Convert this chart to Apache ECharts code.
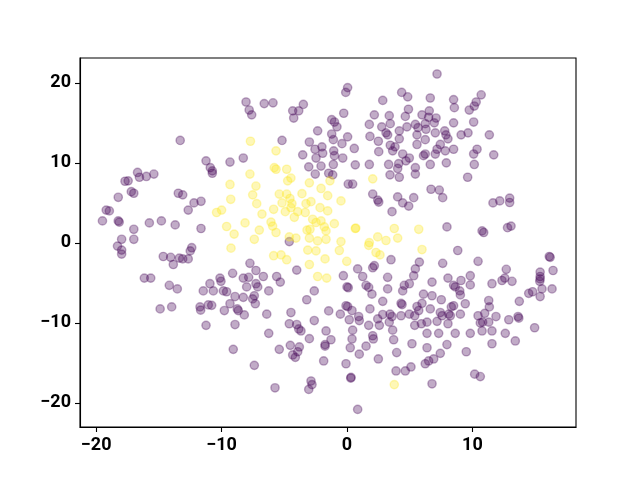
<!DOCTYPE html>
<html>
<head>
<meta charset="utf-8">
<script src="https://cdn.jsdelivr.net/npm/echarts@6/dist/echarts.min.js"></script>
<style>
html,body{margin:0;padding:0;background:#fff;}
#main{width:640px;height:480px;}
</style>
</head>
<body>
<div id="main"></div>
<script>
// cluster 0 (purple) points [x, y]
var purplePts = [
  [-13.3,12.8],[-8.05,17.6],[-7.8,16.6],[-7.6,16.0],
  [0.05,19.4],[-0.1,18.8],[-6.6,17.4],[-5.9,17.5],[-4.33,16.5],[-3.85,16.5],[-4.25,15.6],[-3.48,17.3],[-0.26,16.2],
  [2.85,17.8],[4.36,18.8],[4.84,18.25],[4.9,16.7],[4.65,15.8],[4.78,14.5],[3.37,15.9],[3.45,14.9],[2.77,14.5],
  [2.18,16.0],[1.78,14.8],[1.83,13.3],[2.5,12.7],[3.11,13.75],[3.24,13.5],[4.17,14.0],[4.17,13.0],[3.45,12.2],
  [3.83,12.0],[-1.22,15.4],[-1.0,15.1],[-0.8,14.5],[-1.22,13.6],[-1.09,12.9],[0.05,13.25],[-0.4,12.4],[-2.34,14.0],
  [-3.0,12.6],[-2.0,12.0],[-5.18,12.8],[0.58,11.8],[-2.55,11.7],[-1.06,11.5],
  [7.18,21.1],[6.64,18.1],[8.5,17.9],[8.56,16.9],[10.7,18.5],[10.3,17.6],[10.15,17.1],[9.75,16.6],[6.56,16.5],
  [5.98,16.0],[6.51,15.7],[7.1,15.6],[6.96,15.0],[6.24,14.9],[5.45,14.8],[5.66,14.4],[6.3,14.2],[5.58,13.5],
  [6.24,12.9],[7.04,13.75],[7.79,14.0],[7.89,13.5],[8.05,13.0],[8.5,15.0],[10.1,15.1],[9.1,13.5],[9.65,13.75],
  [11.35,13.5],[5.58,12.3],[7.44,12.3],[7.18,11.7],[8.5,11.7],[10.37,11.7],
  [-11.24,10.25],[-10.9,9.4],[-10.74,9.0],[-10.74,8.7],[-9.33,10.1],[-8.27,10.6],[-16.7,8.8],[-16.55,8.2],
  [-17.7,7.7],[-17.45,7.75],[-16.0,8.3],[-15.4,8.6],[-17.2,6.4],[-17.0,6.2],[-18.24,5.7],[-19.2,4.1],[-18.95,4.0],
  [-19.5,2.75],[-18.24,2.75],[-18.16,2.6],[-15.76,2.5],[-14.8,2.75],[-13.7,2.25],[-13.45,6.2],[-13.1,6.0],
  [-12.66,4.1],[-12.2,5.0],[-11.64,5.2],[-11.64,1.8],[-17.0,1.7],[-17.0,0.45],[-17.97,0.45],
  [-18.3,-0.4],[-17.97,-0.9],[-17.97,-1.4],[-12.38,-0.6],[-12.5,-1.0],[-14.65,-1.7],[-14.06,-1.8],[-13.37,-1.9],
  [-13.1,-2.0],[-12.66,-2.0],[-13.85,-2.7],[-16.16,-4.4],[-15.65,-4.4],[-14.17,-5.3],[-13.53,-5.75],[-14.9,-8.25],
  [-13.98,-8.0],[-11.46,-6.0],[-10.93,-5.1],[-10.13,-4.4],[-10.05,-4.8],[-9.12,-3.8],[-8.27,-4.4],[-10.66,-6.0],
  [-9.86,-6.0],[-9.6,-6.1],[-8.93,-6.7],[-9.33,-7.6],[-8.27,-6.8],[-11.72,-8.0],[-11.67,-8.4],[-11.06,-7.75],
  [-10.79,-7.8],[-9.78,-8.45],[-8.75,-8.25],[-8.67,-8.45],[-11.24,-10.3],[-8.93,-10.2],[-8.19,-9.0],[-9.07,-13.3],
  [-3.53,11.0],[-1.94,11.2],[-1.0,10.9],[-0.34,10.6],[-2.47,10.6],[-3.05,9.5],[-2.07,9.6],[-1.09,9.8],[0.66,9.75],
  [1.78,9.8],[2.53,11.4],[3.64,11.5],[4.44,11.1],[4.7,10.25],[4.97,10.6],[3.32,9.8],[4.12,9.9],[4.04,9.3],
  [3.43,8.5],[4.17,8.2],[-2.53,8.6],[-1.46,8.7],[-1.14,8.5],[0.1,7.35],[0.45,7.35],[2.05,6.1],[2.45,5.35],
  [2.53,5.1],[4.04,5.75],[4.44,5.0],[4.92,4.6],[3.59,3.9],[-4.6,0.16],
  [5.45,9.4],[5.45,8.6],[5.32,5.65],[6.1,10.9],[6.24,11.1],[7.04,11.1],[7.84,11.5],[6.64,9.8],[7.92,10.0],
  [10.1,11.1],[10.15,9.8],[11.7,11.0],[9.62,8.2],[6.7,6.7],[7.36,6.6],[7.63,5.65],[11.64,5.0],[12.18,5.25],
  [12.97,5.6],[12.97,5.05],[7.97,2.0],[10.77,1.5],[10.9,1.3],[12.8,1.9],[13.08,2.1],
  [-7.74,-2.55],[-7.26,-3.45],[-6.67,-4.2],[-7.84,-4.3],[-7.26,-5.1],[-7.12,-5.5],[-7.39,-6.6],[-7.52,-7.0],
  [-7.31,-7.6],[-8.0,-5.5],[-6.24,-6.0],[-5.61,-4.2],[-5.32,-4.9],[-4.01,-3.4],[-6.4,-8.9],[-3.21,-7.1],
  [-2.61,-6.0],[-4.47,-8.7],[-4.6,-10.1],[-4.01,-10.2],[-3.85,-10.75],[-3.67,-11.0],[-6.24,-11.3],[-2.61,-9.7],
  [-1.67,-11.0],[-1.46,-8.5],[-0.53,-8.9],[-0.29,-4.1],[0.0,-5.5],[0.1,-5.6],[0.85,-3.25],[1.25,-4.2],[2.05,-3.1],
  [2.18,-2.85],[3.51,-2.1],[1.52,-5.3],[1.73,-5.55],[1.99,-6.4],[3.24,-4.3],[3.24,-5.75],[2.85,-7.3],[4.44,-6.0],
  [4.57,-5.3],[4.97,-5.1],[4.31,-7.55],[4.39,-7.7],[-0.08,-7.85],[0.05,-7.95],[0.4,-8.45],[0.93,-9.2],[0.98,-9.7],
  [0.18,-9.6],[1.83,-8.25],[1.73,-10.3],[2.45,-9.5],[2.58,-10.3],[2.85,-8.95],[3.43,-8.9],[3.59,-9.2],[3.37,-9.9],
  [3.64,-10.9],[4.31,-9.1],[4.97,-8.9],[0.45,-10.9],[2.05,-11.6],
  [8.83,-0.95],[16.13,-1.7],[16.2,-1.8],[5.77,-2.4],[5.45,-3.25],[5.32,-4.1],[7.63,-2.55],[10.45,-2.3],[12.7,-3.3],
  [12.36,-4.7],[12.58,-4.4],[13.16,-4.8],[8.05,-4.4],[9.09,-4.7],[8.5,-5.3],[8.63,-5.5],[9.83,-4.1],[9.83,-5.25],
  [8.99,-6.0],[9.04,-6.5],[6.78,-4.9],[11.56,-5.1],[15.4,-3.65],[15.4,-4.2],[15.4,-4.5],[15.37,-4.8],[16.43,-3.45],
  [16.35,-5.75],[14.49,-6.3],[14.8,-6.1],[15.4,-6.7],[15.55,-5.75],[13.74,-7.3],[6.1,-6.4],[6.78,-6.6],[7.52,-7.1],
  [5.98,-7.55],[5.58,-7.95],[5.72,-8.45],[6.64,-8.25],[7.44,-8.7],[7.58,-9.1],[8.32,-8.0],[8.5,-7.85],[9.43,-7.6],
  [8.11,-8.9],[8.24,-9.1],[9.04,-8.9],[11.3,-7.2],[11.35,-8.0],[10.45,-9.1],[10.98,-8.8],[11.88,-9.2],[10.63,-10.0],
  [10.82,-9.9],[11.3,-9.9],[12.9,-9.6],[13.64,-9.2],[13.7,-9.4],[14.96,-10.6],[5.4,-9.1],[5.4,-10.3],[5.93,-10.1],
  [6.38,-9.9],[6.38,-11.3],[7.18,-9.8],[8.05,-10.1],[7.31,-11.3],[8.63,-11.3],[9.83,-11.3],[10.77,-11.0],
  [11.56,-11.0],[12.62,-11.3],
  [-5.4,-13.3],[-4.52,-12.8],[-3.8,-13.0],[-3.93,-13.6],[-4.33,-14.0],[-4.12,-14.3],[-3.0,-11.96],[-1.75,-12.7],
  [-1.75,-12.9],[-1.28,-12.1],[-7.39,-15.3],[-1.86,-14.75],[-0.08,-15.1],[0.26,-13.1],[0.4,-12.0],[0.98,-13.9],
  [1.52,-12.9],[2.1,-12.0],[2.5,-14.5],[3.72,-12.1],[3.96,-13.7],[3.91,-16.0],[4.65,-16.0],[5.1,-15.5],
  [-2.87,-17.25],[-2.79,-17.7],[-3.05,-18.3],[-5.74,-18.1],[0.32,-16.8],[0.3,-16.9],[0.85,-20.8],
  [5.18,-12.6],[6.38,-13.1],[6.24,-15.1],[6.51,-14.75],[6.91,-14.5],[7.44,-13.8],[7.97,-12.7],[9.51,-13.6],
  [11.56,-12.6],[13.42,-12.25],[10.18,-16.4],[10.63,-16.7],[6.78,-17.6]
];

// cluster 1 (yellow) points [x, y]
var yellowPts = [
  [-7.7,12.7],[-5.66,11.5],
  [-9.33,7.3],[-9.27,5.45],[-10.4,3.8],[-10.0,4.1],[-9.6,2.05],[-9.0,1.1],[-8.13,2.5],
  [-5.8,9.4],[-5.66,9.2],[-4.81,9.2],[-4.47,8.1],[-4.73,7.75],[-7.74,8.6],[-7.26,7.1],[-3.0,7.5],[-2.07,6.8],
  [-1.36,7.75],[2.05,8.0],[-7.52,6.0],[-7.2,4.9],[-5.4,6.1],[-4.81,6.1],[-5.18,5.0],[-4.55,5.55],[-4.39,4.9],
  [-4.47,4.4],[-3.59,6.15],[-3.27,4.9],[-2.87,5.15],[-1.54,5.9],[-0.48,5.25],[-2.15,4.4],[-1.54,4.0],[-6.78,3.6],
  [-5.85,4.2],[-4.92,3.9],[-3.93,3.9],[-3.33,3.8],[-4.2,3.2],[-6.06,2.6],[-5.93,2.1],[-2.74,2.95],[-2.47,2.55],
  [-2.07,2.75],[-2.95,1.7],[-3.19,1.6],[-1.81,2.0],[-1.67,1.5],[-1.01,2.4],[0.66,1.8],[0.7,1.85],[-5.66,1.3],
  [-6.99,1.6],[-7.39,0.45],[-4.6,0.75],[-4.07,0.6],[-3.0,0.6],[-2.34,0.25],[-1.67,0.45],[-0.48,0.16],[1.78,0.04],
  [2.45,0.75],[3.11,0.3],[3.77,1.8],[4.04,0.6],
  [-9.25,-0.66],[5.72,1.7],
  [-5.85,-1.6],[-5.26,-1.5],[-4.81,-2.1],[-3.13,-0.9],[-2.47,-1.0],[-1.75,-2.0],[-3.0,-2.7],[-2.34,-4.2],
  [-1.62,-4.4],[-0.61,-0.95],[-0.02,-2.3],[1.73,-0.3],[2.31,-1.2],[2.63,-1.5],
  [5.98,-0.83],[3.77,-17.7]
];

var xTicks = [-20, -10, 0, 10];
var yTicks = [-20, -10, 0, 10, 20];

function fmt(v) {
  return v < 0 ? '\u2212' + Math.abs(v) : String(v);
}

var labelStyle = {
  color: '#000',
  fontFamily: 'Roboto',
  fontWeight: 'bold',
  fontSize: 18,
  margin: 9,
  formatter: fmt
};

var axisLineStyle = {show: true, onZero: false, lineStyle: {color: '#000', width: 1.1}};
var tickStyle = {show: true, inside: false, length: 5, lineStyle: {color: '#000', width: 1.1}};

var option = {
  animation: false,
  grid: {
    left: 80, right: 64, top: 58, bottom: 53,
    show: true,
    borderColor: '#000',
    borderWidth: 1.1,
    backgroundColor: 'transparent'
  },
  xAxis: {
    type: 'value',
    position: 'bottom',
    min: -21.29,
    max: 18.26,
    axisLine: axisLineStyle,
    splitLine: {show: false},
    axisTick: Object.assign({customValues: xTicks}, tickStyle),
    axisLabel: Object.assign({customValues: xTicks}, labelStyle)
  },
  yAxis: {
    type: 'value',
    position: 'left',
    min: -23.0,
    max: 23.1,
    axisLine: axisLineStyle,
    splitLine: {show: false},
    axisTick: Object.assign({customValues: yTicks}, tickStyle),
    axisLabel: Object.assign({customValues: yTicks}, labelStyle)
  },
  series: [{
    type: 'scatter',
    data: purplePts,
    symbolSize: 8.3,
    itemStyle: {
      color: 'rgba(68,1,84,0.33)',
      borderColor: 'rgba(68,1,84,0.33)',
      borderWidth: 1.4,
      opacity: 1
    }
  }, {
    type: 'scatter',
    data: yellowPts,
    symbolSize: 8.3,
    itemStyle: {
      color: 'rgba(253,231,37,0.33)',
      borderColor: 'rgba(253,231,37,0.33)',
      borderWidth: 1.4,
      opacity: 1
    }
  }]
};

var chart = echarts.init(document.getElementById('main'));
chart.setOption(option);
</script>
</body>
</html>
